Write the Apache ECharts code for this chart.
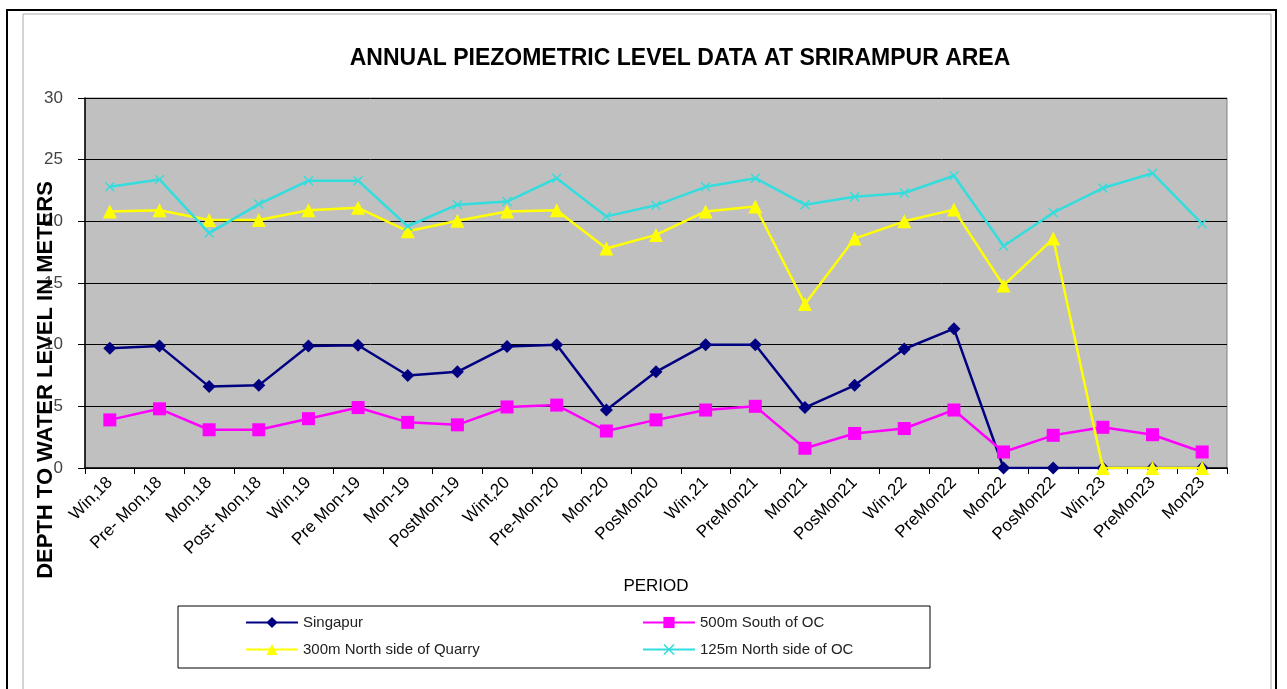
<!DOCTYPE html>
<html>
<head>
<meta charset="utf-8">
<script src="https://cdn.jsdelivr.net/npm/echarts@6/dist/echarts.min.js"></script>
<style>
html,body{margin:0;padding:0;background:#fff;}
#c{width:1287px;height:689px;}
</style>
</head>
<body>
<div id="c"></div>
<script>
var categories = ['Win,18','Pre- Mon,18','Mon,18','Post- Mon,18','Win,19','Pre Mon-19','Mon-19','PostMon-19','Wint,20','Pre-Mon-20','Mon-20','PosMon20','Win,21','PreMon21','Mon21','PosMon21','Win,22','PreMon22','Mon22','PosMon22','Win,23','PreMon23','Mon23'];
var singapur = [9.7,9.9,6.6,6.7,9.9,9.95,7.5,7.8,9.85,10.0,4.7,7.8,10.0,10.0,4.9,6.7,9.65,11.3,0,0,0,0,0];
var south500 = [3.9,4.8,3.1,3.1,4.0,4.9,3.7,3.5,4.95,5.1,3.0,3.9,4.7,5.0,1.6,2.8,3.2,4.7,1.3,2.65,3.3,2.7,1.3];
var quarry300 = [20.8,20.9,20.1,20.1,20.9,21.1,19.2,20.05,20.8,20.9,17.8,18.9,20.8,21.2,13.3,18.6,20.0,20.95,14.8,18.6,0,0,0];
var north125 = [22.8,23.4,19.05,21.4,23.3,23.3,19.6,21.35,21.6,23.5,20.4,21.3,22.8,23.5,21.35,22.0,22.3,23.7,18.0,20.7,22.7,23.9,19.8];
var yTicks = {min:0, max:30, interval:5};

var FONT = '"Liberation Sans", Arial, sans-serif';
var xMark = 'path://M0,1L1,0L5,4L9,0L10,1L6,5L10,9L9,10L5,6L1,10L0,9L4,5Z';

var chart = echarts.init(document.getElementById('c'));
chart.setOption({
  animation:false,
  backgroundColor:'#ffffff',
  title:{
    text:'ANNUAL PIEZOMETRIC LEVEL DATA AT SRIRAMPUR AREA',
    left:675, top:42, textAlign:'center',
    textStyle:{fontFamily:FONT, fontSize:23, fontWeight:'bold', color:'#000'}
  },
  graphic:[
    {type:'rect', shape:{x:7,y:10,width:1269,height:690}, style:{fill:'none', stroke:'#000', lineWidth:2}, z:-1},
    {type:'rect', shape:{x:23,y:14,width:1248,height:690}, style:{fill:'none', stroke:'#aaa', lineWidth:1}, z:-1},
    {type:'rect', shape:{x:178,y:606,width:752,height:62}, style:{fill:'#fff', stroke:'#000', lineWidth:1}, z:-1},
    {type:'text', x:46, y:380, rotation:Math.PI/2, z:100,
     style:{text:'DEPTH TO WATER LEVEL IN METERS', fontFamily:FONT, fontSize:22, fontWeight:'bold', fill:'#000',
            textAlign:'center', textVerticalAlign:'middle'}}
  ],
  legend:[
    {data:['Singapur','300m North side of Quarry'], left:245, top:615, padding:0, orient:'vertical', itemGap:12,
     itemWidth:52, itemHeight:14, textStyle:{fontFamily:FONT, fontSize:15, color:'#222'}},
    {data:['500m South of OC','125m North side of OC'], left:642, top:615, padding:0, orient:'vertical', itemGap:12,
     itemWidth:52, itemHeight:14, textStyle:{fontFamily:FONT, fontSize:15, color:'#222'}}
  ],
  grid:{left:85, right:60, top:98, bottom:221, show:true, backgroundColor:'#c0c0c0', borderColor:'#808080', borderWidth:1},
  xAxis:{
    type:'category', data:categories, boundaryGap:true,
    name:'PERIOD', nameLocation:'middle', nameGap:110,
    nameTextStyle:{fontFamily:FONT, fontSize:17, color:'#000'},
    axisLine:{lineStyle:{color:'#000', width:1.5}},
    axisTick:{show:true, length:6, lineStyle:{color:'#000'}},
    axisLabel:{rotate:45, margin:12, fontFamily:FONT, fontSize:17, color:'#000', interval:0}
  },
  yAxis:{
    type:'value', min:yTicks.min, max:yTicks.max, interval:yTicks.interval,
    axisLine:{show:true, lineStyle:{color:'#000', width:1.5}},
    axisTick:{show:true, length:7, lineStyle:{color:'#000'}},
    axisLabel:{margin:22, fontFamily:FONT, fontSize:17, color:'#444'},
    splitLine:{show:true, lineStyle:{color:'#000', width:1}}
  },
  series:[
    {name:'Singapur', type:'line', data:singapur, symbol:'diamond', symbolSize:13,
     lineStyle:{color:'#000080', width:2.5}, itemStyle:{color:'#000080'}, z:2},
    {name:'500m South of OC', type:'line', data:south500, symbol:'rect', symbolSize:13,
     lineStyle:{color:'#ff00ff', width:2.5}, itemStyle:{color:'#ff00ff'}, z:3},
    {name:'300m North side of Quarry', type:'line', data:quarry300, symbol:'triangle', symbolSize:14,
     lineStyle:{color:'#ffff00', width:2.5}, itemStyle:{color:'#ffff00'}, z:4},
    {name:'125m North side of OC', type:'line', data:north125, symbol:xMark, symbolSize:10,
     lineStyle:{color:'#33dddd', width:2.5}, itemStyle:{color:'#33dddd'}, z:5}
  ]
});
</script>
</body>
</html>
